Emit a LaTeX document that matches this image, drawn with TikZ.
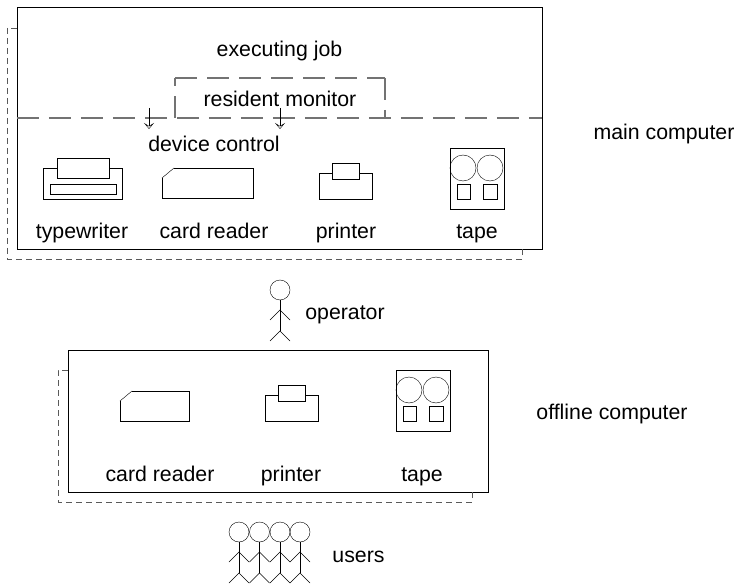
\documentclass[tikz,border=0pt]{standalone}
\usepackage{fontspec}
\setmainfont{Liberation Sans}
\usetikzlibrary{arrows.meta}
\tikzset{>={Stealth[open,length=6pt,width=10pt,inset=3pt]}, x=1pt, y=-1pt, line width=1pt,
    label/.style={inner sep=0pt,anchor=base,font=\fontsize{21.3}{24}\selectfont},
    shadow/.style={dash pattern=on 6pt off 4pt,black!65},
    memline/.style={dash pattern=on 22pt off 10pt,black!55,line width=1.2pt},
    pics/reader/.style={code={
        \draw (0,10) -- (12,0);
        \draw (12,0) -- (#1,0) -- (#1,30) -- (0,30) -- (0,10);}},
    pics/printer/.style={code={
        \draw (0,10) rectangle (53,36);
        \draw[fill=white] (13,0) rectangle (40,16);}},
    pics/tape/.style={code={
        \draw (0,0) rectangle (54,61);
        \draw (13,20) circle (13pt);
        \draw (40,20) circle (13pt);
        \draw (7,36) rectangle (20,51);
        \draw (33,36) rectangle (47,51);}},
    pics/person/.style={code={
        \draw (0,0) circle (10pt);
        \draw (0,10) -- (0,41);
        \draw (-10,30) -- (0,20) -- (10,30);
        \draw (-10,51) -- (0,41) -- (10,51);}}}
\begin{document}
\begin{tikzpicture}
\useasboundingbox (0,0) rectangle (738,585);

% main computer
\node[draw,inner sep=0pt,minimum width=525pt,minimum height=242pt] (main) at (279.5,128) {};
\coordinate (mainA) at (17,28);
\coordinate (mainB) at (522,249);
\draw[shadow] (mainA) -- (7,28) -- (7,259) -- (522,259) -- (mainB);
\coordinate (memL) at (main.west |- 0,118);
\coordinate (memR) at (main.east |- 0,118);
\draw[memline] (memL) -- (memR);
\coordinate (resTL) at (175,78);
\coordinate (resTR) at (385,78);
\draw[memline] (175,118) -- (resTL);
\draw[memline] (resTL) -- (resTR);
\draw[memline] (resTR) -- (385,118);
\coordinate (arrA) at (149,108);
\coordinate (arrB) at (149,129);
\coordinate (arrC) at (280,108);
\coordinate (arrD) at (280,129);
\draw[->] (arrA) -- (arrB);
\draw[->] (arrC) -- (arrD);

\node[label] (executing) at (279.5,57) {executing job};
\node[label] (resident) at (280,107) {resident monitor};
\node[label] (control) at (214,152) {device control};
\node[label] (maincomp) at (664,140) {main computer};

% devices on top
\draw (43,168) rectangle (122,199);
\draw[fill=white] (57,158) rectangle (109,178);
\draw (50,184) rectangle (116,194);
\pic at (162,168) {reader=91};
\pic at (319,163) {printer};
\pic at (450,148) {tape};
\node[label] (typewriter) at (82,238) {typewriter};
\node[label] (reader) at (214,238) {card reader};
\node[label] (printer) at (346,238) {printer};
\node[label] (tape) at (477,238) {tape};

% operator
\pic at (280,290) {person};
\node[label] (operator) at (345,319) {operator};

% offline computer
\node[draw,inner sep=0pt,minimum width=420pt,minimum height=142pt] (offline) at (278,421) {};
\coordinate (offA) at (68,370);
\coordinate (offB) at (472,492);
\draw[shadow] (offA) -- (58,370) -- (58,502) -- (472,502) -- (offB);
\pic at (120,391) {reader=69};
\pic at (265,385) {printer};
\pic at (396,370) {tape};
\node[label] (reader2) at (160,481) {card reader};
\node[label] (printer2) at (291,481) {printer};
\node[label] (tape2) at (422,481) {tape};
\node[label] (offcomp) at (612,419) {offline computer};

% users
\foreach \x in {239,259.5,280,300}
    \pic at (\x,532) {person};
\node[label] (users) at (358.5,562) {users};
\end{tikzpicture}
\end{document}
